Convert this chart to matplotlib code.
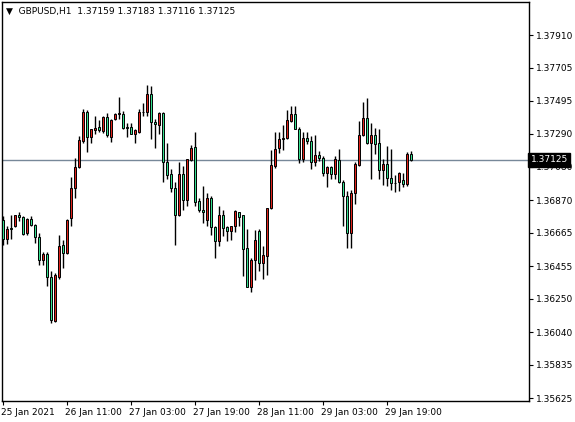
import numpy as np
import matplotlib
matplotlib.use("Agg")
import matplotlib.pyplot as plt
from matplotlib.transforms import ScaledTranslation

# GBPUSD H1 candles (prices in 1e-5 units)
opens = [136748, 136626, 136696, 136710, 136774, 136765, 136664, 136753, 136715, 136639,
         136492, 136534, 136386, 136113, 136391, 136591, 136542, 136759, 136948, 137081,
         137243, 137422, 137270, 137312, 137333, 137310, 137396, 137270, 137384, 137415,
         137415, 137333, 137333, 137289, 137302, 137428, 137428, 137537, 137363, 137344,
         137417, 137112, 137037, 136948, 136776, 137032, 136870, 137127, 137207, 136862,
         136811, 136748, 136885, 136702, 136612, 136778, 136700, 136675, 136706, 136795,
         136774, 136570, 136328, 136496, 136677, 136479, 136523, 136822, 137089, 137199,
         137258, 137260, 137369, 137411, 137321, 137131, 137264, 137243, 137110, 137152,
         137138, 137043, 137081, 137039, 137123, 136986, 136896, 136668, 136917, 137096,
         137281, 137390, 137232, 137279, 137228, 137060, 137096, 137011, 136980, 136984,
         136997, 136971, 137159]
highs = [136774, 136706, 136780, 136780, 136797, 136769, 136759, 136774, 136723, 136664,
         136542, 136542, 136422, 136412, 136654, 136622, 136753, 137018, 137138, 137274,
         137447, 137436, 137316, 137401, 137373, 137401, 137417, 137384, 137422, 137523,
         137432, 137358, 137358, 137321, 137447, 137481, 137594, 137590, 137380, 137426,
         137426, 137228, 137068, 136984, 137112, 137085, 137131, 137215, 137302, 136885,
         136963, 136917, 136896, 136711, 136837, 136807, 136706, 136711, 136807, 136799,
         136774, 136690, 136506, 136685, 136690, 136584, 136822, 137184, 137300, 137300,
         137342, 137439, 137464, 137464, 137333, 137300, 137300, 137274, 137279, 137178,
         137148, 137089, 137089, 137148, 137190, 136997, 136927, 136934, 137110, 137369,
         137489, 137516, 137359, 137327, 137321, 137131, 137211, 137190, 137032, 137047,
         137043, 137173, 137183]
lows = [136591, 136595, 136626, 136702, 136738, 136649, 136649, 136706, 136601, 136462,
        136464, 136328, 136096, 136107, 136376, 136443, 136534, 136706, 136885, 137074,
        137232, 137173, 137232, 137285, 137300, 137295, 137270, 137236, 137375, 137384,
        137316, 137270, 137285, 137232, 137295, 137401, 137401, 137253, 137201, 137285,
        136984, 137001, 136921, 136586, 136769, 136807, 136837, 137117, 136837, 136795,
        136727, 136706, 136654, 136506, 136584, 136643, 136612, 136622, 136668, 136706,
        136391, 136328, 136296, 136370, 136422, 136374, 136401, 136816, 137075, 137165,
        137186, 137253, 137363, 137317, 137102, 137110, 137222, 137068, 137089, 137117,
        137026, 136955, 137005, 137001, 136980, 136711, 136570, 136570, 136849, 137089,
        137274, 137222, 137001, 137159, 137005, 136969, 136959, 136938, 136923, 136927,
        136955, 136959, 137116]
closes = [136626, 136689, 136691, 136774, 136765, 136658, 136753, 136715, 136639, 136492,
          136534, 136386, 136117, 136401, 136584, 136542, 136748, 136948, 137081, 137247,
          137422, 137270, 137316, 137327, 137312, 137396, 137279, 137375, 137415, 137417,
          137327, 137325, 137289, 137310, 137428, 137426, 137537, 137363, 137348, 137417,
          137112, 137028, 136948, 136776, 137032, 136870, 137127, 137201, 136858, 136811,
          136795, 136885, 136702, 136612, 136778, 136696, 136675, 136706, 136799, 136763,
          136563, 136328, 136496, 136618, 136475, 136527, 136822, 137089, 137194, 137258,
          137264, 137373, 137411, 137321, 137131, 137264, 137243, 137110, 137152, 137138,
          137043, 137081, 137039, 137131, 136986, 136896, 136668, 136917, 137096, 137279,
          137390, 137232, 137279, 137228, 137064, 137096, 137011, 136980, 136980, 137043,
          136971, 137163, 137125]

price_ticks = [1.37910, 1.37705, 1.37495, 1.37290, 1.37080, 1.36870, 1.36665,
               1.36455, 1.36250, 1.36040, 1.35835, 1.35625]
date_labels = ["25 Jan 2021", "26 Jan 11:00", "27 Jan 03:00", "27 Jan 19:00",
               "28 Jan 11:00", "29 Jan 03:00", "29 Jan 19:00"]
date_bars = [0, 16, 32, 48, 64, 80, 96]
bid = 1.37125

o = np.array(opens) / 1e5
h = np.array(highs) / 1e5
l = np.array(lows) / 1e5
c = np.array(closes) / 1e5
x = np.arange(len(o))

W, H = 575, 422
fig = plt.figure(figsize=(W / 100, H / 100), dpi=100)
ax = fig.add_axes([2 / W, (H - 401) / H, 527 / W, 399 / H])
ax.set_xlim(-0.33, 131.4)
ax.set_ylim(1.35607, 1.38118)

up = c >= o
ax.vlines(x, l, h, color="black", lw=1, zorder=2)
ax.bar(x, np.abs(c - o) + 0.000015, bottom=np.minimum(o, c) - 0.0000075, width=0.45,
       color=np.where(up, "#e0231c", "#35e08f"), edgecolor="black", lw=0.7, zorder=3)

ax.axhline(bid, color="#778899", lw=1, zorder=1)

for s in ax.spines.values():
    s.set_linewidth(1)
ax.yaxis.tick_right()
ax.set_yticks(price_ticks)
ax.set_yticklabels([f"{p:.5f}" for p in price_ticks], fontsize=6.5)
ax.tick_params(axis="y", length=3, pad=2)
ax.set_xticks(date_bars)
ax.set_xticklabels(date_labels, fontsize=6.5, ha="left")
ax.tick_params(axis="x", length=3, pad=2)
off = ScaledTranslation(-2 / 72, 0, fig.dpi_scale_trans)
for lbl in ax.get_xticklabels():
    lbl.set_transform(lbl.get_transform() + off)

ax.text(1.003, bid, "1.37125", transform=ax.get_yaxis_transform(), fontsize=6.5,
        color="white", va="center", ha="left",
        bbox=dict(boxstyle="square,pad=0.25", fc="black", ec="black"))

fig.text(6 / W, 1 - 11 / H, "▼  GBPUSD,H1  1.37159 1.37183 1.37116 1.37125",
         fontsize=6.5, va="center", ha="left")

fig.savefig("out.png", dpi=100)
